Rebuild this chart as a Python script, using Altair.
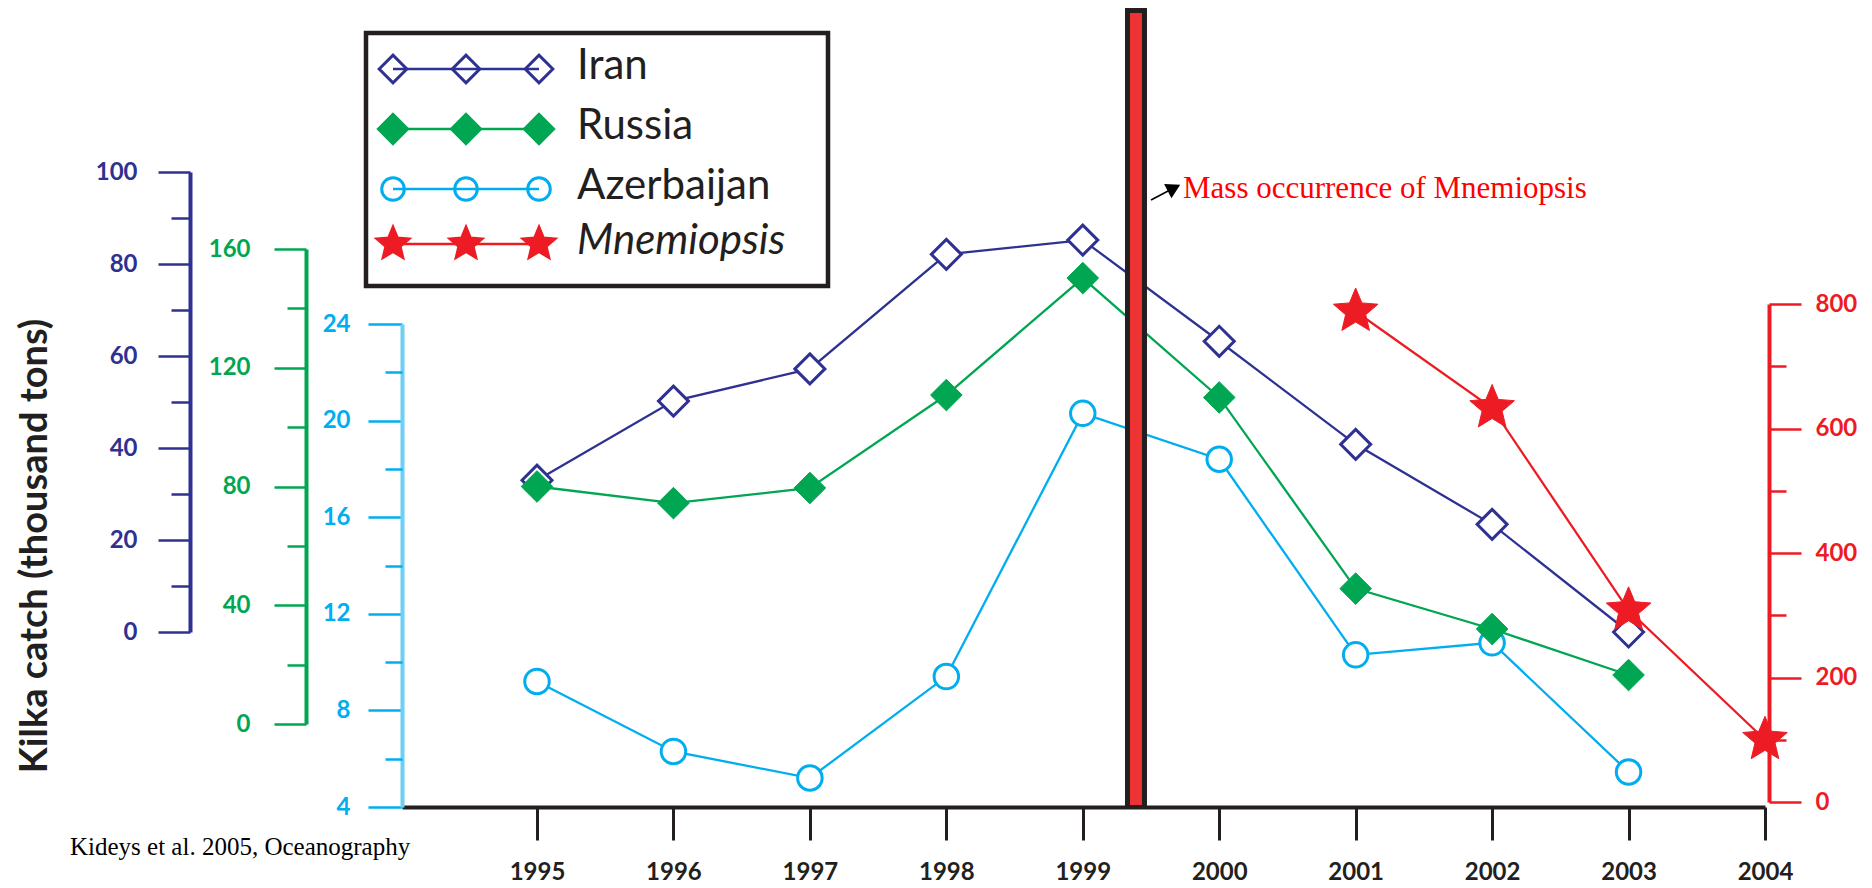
import altair as alt
import pandas as pd

# Kilka catch in the Caspian Sea (thousand tons) and Mnemiopsis biomass
years = [1995, 1996, 1997, 1998, 1999, 2000, 2001, 2002, 2003]
iran_catch = [33, 50.2, 57.2, 82.1, 85.2, 63.2, 40.8, 23.4, 0]
russia_catch = [80, 74.4, 79.5, 110.8, 150.2, 110, 45.6, 32, 16.5]
azerbaijan_catch = [9.2, 6.3, 5.2, 9.4, 20.3, 18.4, 10.3, 10.8, 5.45]
mnemiopsis_years = [2001, 2002, 2003, 2004]
mnemiopsis_biomass = [788, 633, 308, 100]

year_ticks = list(range(1995, 2005))
iran_ticks = [0, 20, 40, 60, 80, 100]
iran_minor = [10, 30, 50, 70, 90]
russia_ticks = [0, 40, 80, 120, 160]
russia_minor = [20, 60, 100, 140]
azerbaijan_ticks = [4, 8, 12, 16, 20, 24]
azerbaijan_minor = [6, 10, 14, 18, 22]
mnemiopsis_ticks = [0, 200, 400, 600, 800]
mnemiopsis_minor = [100, 300, 500, 700]

mass_occurrence_year = 1999.39
annotation_text = "Mass occurrence of Mnemiopsis"
citation_text = "Kideys et al. 2005, Oceanography"
y_title = "Kilka catch (thousand tons)"
legend_names = ["Iran", "Russia", "Azerbaijan", "Mnemiopsis"]

# ---- layout (pixels on the 1872 x 888 canvas) ----
W, H = 1872, 888
AXIS_Y = 807
X_FIRST_PX, X_LAST_PX, X_START_PX = 537, 1765, 402
px_per_year = (X_LAST_PX - X_FIRST_PX) / (year_ticks[-1] - year_ticks[0])
x_domain = [year_ticks[0] - (X_FIRST_PX - X_START_PX) / px_per_year, year_ticks[-1]]
x_scale = alt.Scale(domain=x_domain, range=[X_START_PX, X_LAST_PX], nice=False, zero=False)

INK = "#231F20"
BLUE, GREEN, CYAN, RED = "#2E3192", "#00A651", "#00AEEF", "#ED1C24"
STAR = ("M0,-1L0.265,-0.364L0.951,-0.309L0.428,0.139L0.588,0.809L0,0.45"
        "L-0.588,0.809L-0.428,0.139L-0.951,-0.309L-0.265,-0.364Z")

LABEL_FONT = "Lato"


def x_enc(axis=None):
    if axis is None:
        return alt.X("year:Q", scale=x_scale, axis=None)
    return alt.X("year:Q", scale=x_scale, axis=axis)


x_axis = alt.Axis(
    orient="bottom", offset=AXIS_Y - H, values=year_ticks, format="d",
    tickSize=33, tickWidth=3, tickColor=INK, domainColor=INK, domainWidth=4,
    labelColor=INK, labelFont=LABEL_FONT, labelFontSize=24, labelFontWeight="bold",
    labelPadding=20, labelFlush=False, labelOverlap=False, grid=False, title=None,
)

series = [
    dict(name="Azerbaijan", x=years, v=azerbaijan_catch, color=CYAN, axis_color="#6DCFF6",
         domain=[4, 24], px=[AXIS_Y, 324], axis_px=402, orient="left",
         ticks=azerbaijan_ticks, minor=azerbaijan_minor, major_len=34, minor_len=17, pad=18,
         shape="circle", fill="white", size=600, sw=3),
    dict(name="Iran", x=years, v=iran_catch, color=BLUE, axis_color=BLUE,
         domain=[0, 100], px=[632, 172], axis_px=190, orient="left",
         ticks=iran_ticks, minor=iran_minor, major_len=32, minor_len=19, pad=21,
         shape="diamond", fill="white", size=900, sw=3),
    dict(name="Russia", x=years, v=russia_catch, color=GREEN, axis_color=GREEN,
         domain=[0, 160], px=[724, 249], axis_px=306, orient="left",
         ticks=russia_ticks, minor=russia_minor, major_len=32, minor_len=19, pad=24,
         shape="diamond", fill=GREEN, size=1000, sw=1),
    dict(name="Mnemiopsis", x=mnemiopsis_years, v=mnemiopsis_biomass, color=RED, axis_color=RED,
         domain=[0, 800], px=[802, 304], axis_px=1769, orient="right",
         ticks=mnemiopsis_ticks, minor=mnemiopsis_minor, major_len=32, minor_len=17, pad=14,
         shape=STAR, fill=RED, size=2200, sw=1),
]

layers = []
first = True
for s in series:
    df = pd.DataFrame({"year": s["x"], "value": s["v"]})
    offset = -s["axis_px"] if s["orient"] == "left" else s["axis_px"] - W
    y_scale = alt.Scale(domain=s["domain"], range=s["px"], nice=False, zero=False)
    major_axis = alt.Axis(
        orient=s["orient"], offset=offset, values=s["ticks"], tickSize=s["major_len"],
        tickWidth=2.5, tickColor=s["color"], domainColor=s["axis_color"], domainWidth=4,
        labelColor=s["color"], labelFont=LABEL_FONT, labelFontSize=24, labelFontWeight="bold",
        labelPadding=s["pad"], labelOverlap=False, grid=False, title=None,
    )
    minor_axis = alt.Axis(
        orient=s["orient"], offset=offset, values=s["minor"], tickSize=s["minor_len"],
        tickWidth=2.5, tickColor=s["color"], domain=False, labels=False,
        grid=False, title=None,
    )
    base = alt.Chart(df)
    line = base.mark_line(color=s["color"], strokeWidth=2.3).encode(
        x=x_enc(x_axis if first else None),
        y=alt.Y("value:Q", scale=y_scale, axis=major_axis),
    )
    pts = base.mark_point(
        shape=s["shape"], size=s["size"], fill=s["fill"], stroke=s["color"],
        strokeWidth=s["sw"], opacity=1, fillOpacity=1,
    ).encode(
        x=x_enc(),
        y=alt.Y("value:Q", scale=y_scale, axis=minor_axis),
    )
    layers += [line, pts]
    first = False

# vertical marker for the Mnemiopsis outbreak
bar_df = pd.DataFrame({"year": [mass_occurrence_year]})
layers.append(alt.Chart(bar_df).mark_rule(color=INK, strokeWidth=22).encode(
    x=x_enc(), y=alt.value(8), y2=alt.value(AXIS_Y)))
layers.append(alt.Chart(bar_df).mark_rule(color="#EE3333", strokeWidth=12).encode(
    x=x_enc(), y=alt.value(13), y2=alt.value(AXIS_Y - 2)))

one = pd.DataFrame({"label": [annotation_text]})
layers.append(alt.Chart(one).mark_rule(color="black", strokeWidth=1.6).encode(
    x=alt.value(1151), y=alt.value(200), x2=alt.value(1170), y2=alt.value(190)))
layers.append(alt.Chart(one).mark_point(
    shape="triangle-right", angle=333, size=260, filled=True, color="black", opacity=1
).encode(x=alt.value(1174), y=alt.value(188)))
layers.append(alt.Chart(one).mark_text(
    font="Liberation Serif", fontSize=31, color="#FF0000", align="left", baseline="alphabetic"
).encode(x=alt.value(1183), y=alt.value(198), text="label:N"))

cite = pd.DataFrame({"label": [citation_text]})
layers.append(alt.Chart(cite).mark_text(
    font="Liberation Serif", fontSize=25, color="black", align="left", baseline="alphabetic"
).encode(x=alt.value(70), y=alt.value(855), text="label:N"))

ttl = pd.DataFrame({"label": [y_title]})
layers.append(alt.Chart(ttl).mark_text(
    font=LABEL_FONT, fontSize=38, fontWeight="bold", color=INK, angle=270,
    align="center", baseline="alphabetic"
).encode(x=alt.value(47), y=alt.value(546), text="label:N"))

# ---- legend box ----
LEG_SYM_X = [393, 466, 539]
LEG_ROW_Y = [69, 129, 189, 244]
LEG_TEXT_X = 577
style = {s["name"]: s for s in series}
sym_rows, line_rows, text_rows = [], [], []
for name, ry in zip(legend_names, LEG_ROW_Y):
    s = style[name]
    scale_f = 0.5 if name == "Mnemiopsis" else 0.85
    for sx in LEG_SYM_X:
        sym_rows.append(dict(name=name, px=sx, py=ry, color=s["color"], fill=s["fill"],
                             shape=s["shape"], size=s["size"] * scale_f))
    for sx in (LEG_SYM_X[0], LEG_SYM_X[-1]):
        line_rows.append(dict(name=name, px=sx, py=ry, color=s["color"]))
    text_rows.append(dict(name=name, px=LEG_TEXT_X, py=ry + 10,
                          italic=name == "Mnemiopsis"))
sym_df = pd.DataFrame(sym_rows)
line_df = pd.DataFrame(line_rows)
text_df = pd.DataFrame(text_rows)

frame = pd.DataFrame({"label": ["legend"]})
layers.append(alt.Chart(frame).mark_rect(fill="white", stroke=INK, strokeWidth=4.5).encode(
    x=alt.value(366), x2=alt.value(828), y=alt.value(33), y2=alt.value(286)))
layers.append(alt.Chart(sym_df).mark_point(opacity=1, fillOpacity=1, strokeWidth=3).encode(
    x=alt.X("px:Q", scale=None, axis=None), y=alt.Y("py:Q", scale=None, axis=None),
    shape=alt.Shape("shape:N", scale=None), fill=alt.Fill("fill:N", scale=None),
    stroke=alt.Stroke("color:N", scale=None), size=alt.Size("size:Q", scale=None)))
layers.append(alt.Chart(line_df).mark_line(strokeWidth=2.5).encode(
    x=alt.X("px:Q", scale=None, axis=None), y=alt.Y("py:Q", scale=None, axis=None),
    color=alt.Color("color:N", scale=None), detail="name:N"))
for italic in (False, True):
    layers.append(alt.Chart(text_df[text_df["italic"] == italic]).mark_text(
        font=LABEL_FONT, fontSize=42, color=INK, align="left", baseline="alphabetic",
        fontStyle="italic" if italic else "normal",
    ).encode(x=alt.X("px:Q", scale=None, axis=None), y=alt.Y("py:Q", scale=None, axis=None),
             text="name:N"))

chart = alt.layer(*layers).resolve_scale(x="independent", y="independent").properties(
    width=W, height=H, padding=0, autosize=alt.AutoSizeParams(type="none"), background="white",
).configure_view(strokeWidth=0)

chart.save("out.html", embed_options={"renderer": "svg", "actions": False})
